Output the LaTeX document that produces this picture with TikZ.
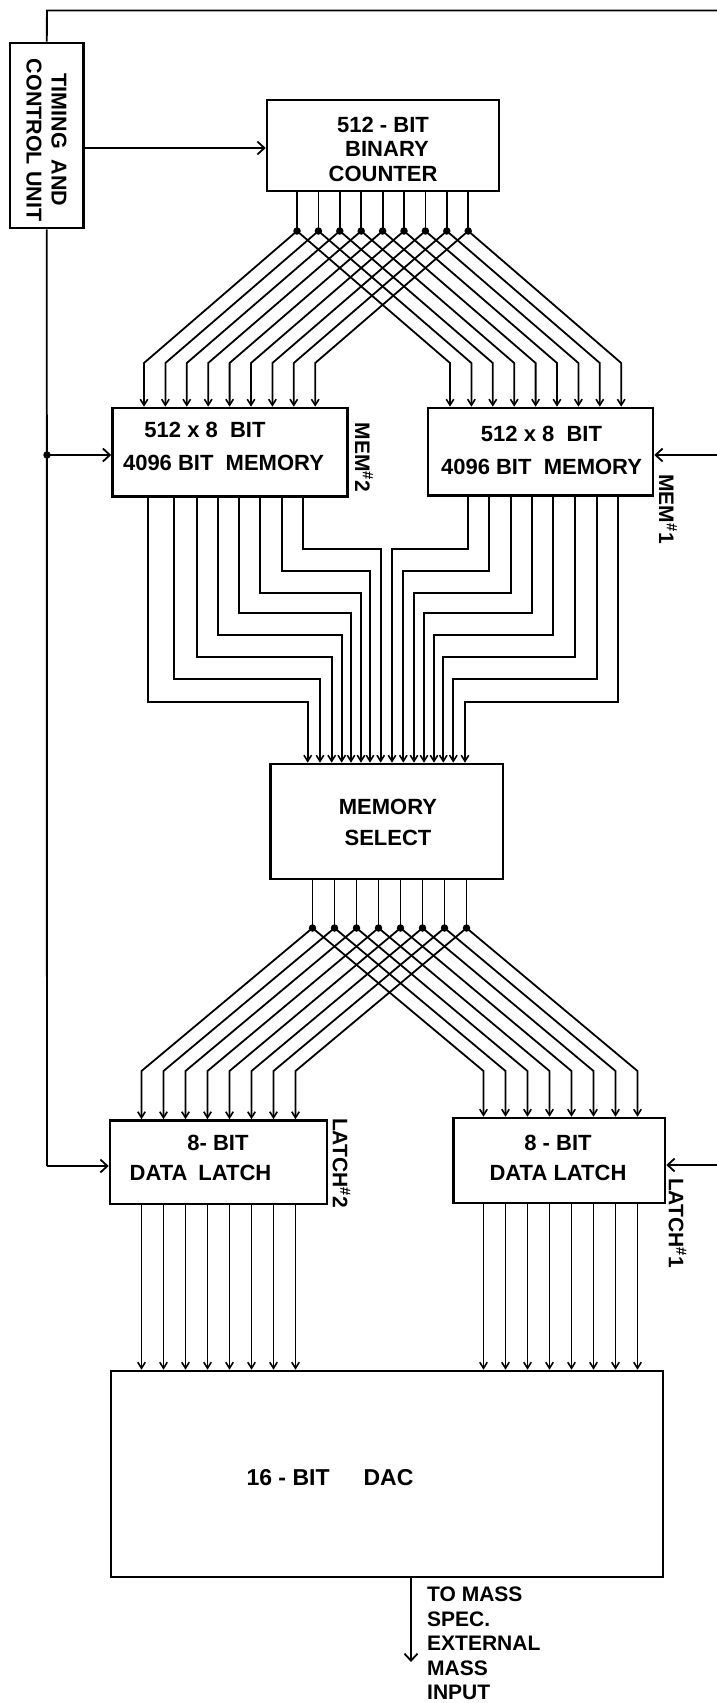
\documentclass[tikz,border=0pt]{standalone}
\usepackage{fontspec}
\setmainfont{Liberation Sans}
\usetikzlibrary{arrows.meta,calc}
\begin{document}
\begin{tikzpicture}[x=1pt,y=-1pt,
  box/.style={draw,line width=2.6pt,inner sep=0pt},
  txt/.style={inner sep=0pt,align=center},
  lab/.style={inner sep=0pt,rotate=-90,font=\fontsize{21}{24}\selectfont\bfseries},
  bus/.style={line width=1.8pt},
  busarrow/.style={bus,-{Straight Barb[length=6pt,width=7.5pt,line width=1.6pt]}},
  ctl/.style={line width=1.9pt},
  ctrl/.style={ctl,-{Straight Barb[length=7pt,width=13pt,line width=1.8pt]}},
  junc/.style={circle,fill,inner sep=0pt,minimum size=7.5pt},
]
\useasboundingbox (0,0) rectangle (716,1703);

% boxes
\node[box,minimum width=73.5pt,minimum height=185pt] (timing) at (46.75,135.5) {};
\node[box,minimum width=232pt,minimum height=91pt] (counter) at (383,145.5) {};
\node[box,minimum width=235pt,minimum height=88.5pt] (memL) at (230,452.25) {};
\node[box,minimum width=225pt,minimum height=87.5pt] (memR) at (540.5,451.75) {};
\node[box,minimum width=232.3pt,minimum height=115pt] (sel) at (386.85,821.5) {};
\node[box,minimum width=217pt,minimum height=83.5pt] (latchL) at (218.5,1162.25) {};
\node[box,minimum width=211.4pt,minimum height=85pt] (latchR) at (559.3,1160.5) {};
\node[box,minimum width=552pt,minimum height=206pt] (dac) at (387,1474) {};

% texts
\node[txt,rotate=-90,font=\fontsize{21.5}{25}\selectfont\bfseries] (timingT) at (46.5,140) {TIMING\hspace{0.5em}AND\\CONTROL UNIT};
\node[txt,font=\fontsize{22}{24.5}\selectfont\bfseries] (counterT) at (383,149) {512 - BIT\\\hspace{8pt}BINARY\\COUNTER};
\node[txt,font=\fontsize{22}{33}\selectfont\bfseries] (memLT) at (223.5,446.5) {512 x 8\ \ BIT\hspace{37pt}\mbox{}\\4096 BIT\ \ MEMORY};
\node[txt,font=\fontsize{22}{33}\selectfont\bfseries] (memRT) at (541.5,450) {512\ x\ 8\ \ BIT\\4096 BIT\ \ MEMORY};
\node[txt,font=\fontsize{22}{31.6}\selectfont\bfseries] (selT) at (388,822.5) {MEMORY\\SELECT};
\node[txt,font=\fontsize{22}{30}\selectfont\bfseries] (latchLT) at (218,1158.3) {8- BIT\\DATA\hspace{11pt}LATCH\hspace{35pt}\mbox{}};
\node[txt,font=\fontsize{22}{30}\selectfont\bfseries] (latchRT) at (558,1158.3) {8 - BIT\\DATA LATCH};
\node[txt,font=\fontsize{23}{25}\selectfont\bfseries] (dacT) at (330,1478) {16 - BIT\hspace{34pt}DAC};
\node[inner sep=0pt,align=left,anchor=north west,font=\fontsize{21}{24.5}\selectfont\bfseries] (outT) at (427,1587) {TO MASS\\SPEC.\\EXTERNAL\\MASS\\INPUT};

\node[lab] (mem2) at (364,457.5) {MEM\textsuperscript{\#}2};
\node[lab] (mem1) at (668,509) {MEM\textsuperscript{\#}1};
\node[lab] (latch2) at (341.6,1163) {LATCH\textsuperscript{\#}2};
\node[lab] (latch1) at (677.6,1223) {LATCH\textsuperscript{\#}1};

% counter -> memories
\foreach \k in {0,...,8}{
  \coordinate (cd\k) at ({297+21.4*\k},231);
  \coordinate (cl\k) at ({297+21.4*\k-153},363);
  \coordinate (cr\k) at ({297+21.4*\k+153},363);
  \draw[bus] (counter.south -| cd\k) -- (cd\k);
  \draw[busarrow] (cd\k) -- (cl\k) -- (memL.north -| cl\k);
  \draw[busarrow] (cd\k) -- (cr\k) -- (memR.north -| cr\k);
  \node[junc] (cdot\k) at (cd\k) {};
}

% memories -> select
\foreach \s/\v/\d [count=\k] in {303.3/549/380.7,281.7/570.7/370,260/592.7/361,239.3/613.3/351,218.3/635/341.7,196.7/656.7/331.7,174.3/679.3/320,148.3/701.7/307.7}{
  \coordinate (la\k) at (\s,\v);
  \coordinate (lb\k) at (\d,\v);
  \draw[busarrow] (memL.south -| la\k) -- (la\k) -- (lb\k) -- (sel.north -| lb\k);
}
\foreach \s/\v/\d [count=\k] in {467.7/549/392,489/570.7/403.3,511/592.7/414,531.7/613.3/424,553.3/635/434,575/656.7/443.3,596.7/679.3/453.3,618.3/701.7/465}{
  \coordinate (ra\k) at (\s,\v);
  \coordinate (rbb\k) at (\d,\v);
  \draw[busarrow] (memR.south -| ra\k) -- (ra\k) -- (rbb\k) -- (sel.north -| rbb\k);
}

% select -> latches -> dac
\foreach \k in {0,...,7}{
  \coordinate (sd\k) at ({312.5+22*\k},928);
  \coordinate (sl\k) at ({312.5+22*\k-171},1071);
  \coordinate (sr\k) at ({312.5+22*\k+171},1071);
  \draw[bus] (sel.south -| sd\k) -- (sd\k);
  \draw[busarrow] (sd\k) -- (sl\k) -- (latchL.north -| sl\k);
  \draw[busarrow] (sd\k) -- (sr\k) -- (latchR.north -| sr\k);
  \draw[busarrow] (latchL.south -| sl\k) -- (dac.north -| sl\k);
  \draw[busarrow] (latchR.south -| sr\k) -- (dac.north -| sr\k);
  \node[junc] (sdot\k) at (sd\k) {};
}

% control lines
\coordinate (tl) at (47,10.5);
\coordinate (tr) at (718,10.5);
\coordinate (rm) at (718,455);
\coordinate (rbot) at (718,1165);
\coordinate (jm) at (47,455);
\coordinate (lbot) at (47,1166);
\coordinate (tc) at (0,148);
\draw[ctl] (timing.north) -- (tl) -- (tr) -- (rbot);
\draw[ctrl] (rm) -- (memR.east |- rm);
\draw[ctrl] (rbot) -- (latchR.east |- rbot);
\draw[ctl] (timing.south) -- (lbot);
\draw[ctrl] (lbot) -- (latchL.west |- lbot);
\draw[ctrl] (jm) -- (memL.west |- jm);
\node[junc] (jdot) at (jm) {};
\draw[ctrl] (timing.east |- tc) -- (counter.west |- tc);
\coordinate (outend) at (411,1662);
\draw[ctrl] (dac.south -| outend) -- (outend);
\end{tikzpicture}
\end{document}
